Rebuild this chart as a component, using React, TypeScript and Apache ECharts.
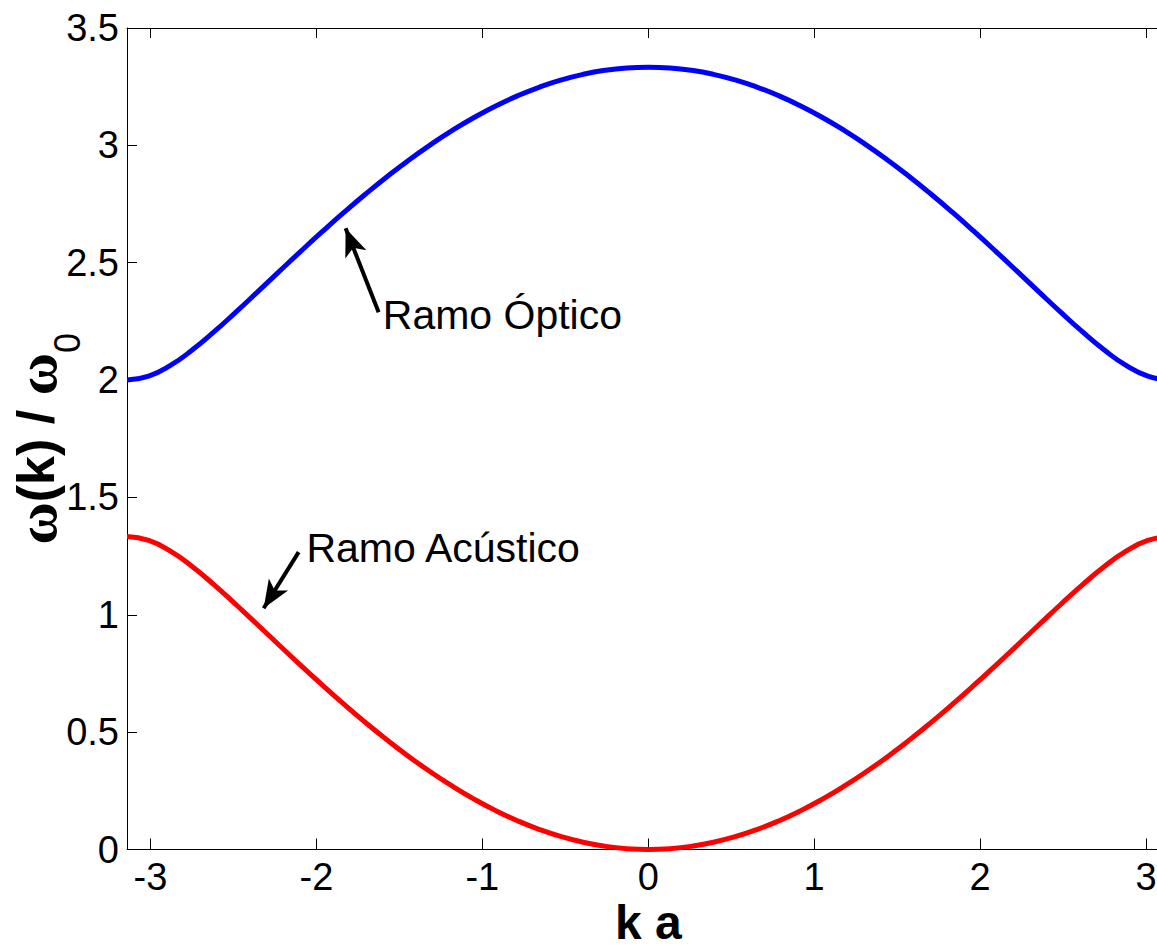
import React, { useEffect, useRef } from "react";
import * as echarts from "echarts";

// Wave number k·a across the first Brillouin zone (steps of π/24)
const kValues = [
  -3.1416, -3.0107, -2.8798, -2.7489, -2.618, -2.4871, -2.3562, -2.2253, -2.0944, -1.9635, -1.8326, -1.7017,
  -1.5708, -1.4399, -1.309, -1.1781, -1.0472, -0.9163, -0.7854, -0.6545, -0.5236, -0.3927, -0.2618, -0.1309,
  0,
  0.1309, 0.2618, 0.3927, 0.5236, 0.6545, 0.7854, 0.9163, 1.0472, 1.1781, 1.309, 1.4399, 1.5708,
  1.7017, 1.8326, 1.9635, 2.0944, 2.2253, 2.3562, 2.4871, 2.618, 2.7489, 2.8798, 3.0107, 3.1416,
];

// Optical branch ω(k)/ω0
const optical = [
  2.0, 2.0167, 2.0623, 2.1278, 2.2049, 2.2885, 2.3749, 2.4621, 2.5486, 2.6332, 2.7152, 2.7938,
  2.8685, 2.9389, 3.0044, 3.0648, 3.1196, 3.1687, 3.2117, 3.2485, 3.2789, 3.3026, 3.3196, 3.3299,
  3.3333,
  3.3299, 3.3196, 3.3026, 3.2789, 3.2485, 3.2117, 3.1687, 3.1196, 3.0648, 3.0044, 2.9389, 2.8685,
  2.7938, 2.7152, 2.6332, 2.5486, 2.4621, 2.3749, 2.2885, 2.2049, 2.1278, 2.0623, 2.0167, 2.0,
];

// Acoustic branch ω(k)/ω0
const acoustic = [
  1.3333, 1.3167, 1.271, 1.2056, 1.1284, 1.0449, 0.9584, 0.8712, 0.7848, 0.7001, 0.6182, 0.5395,
  0.4648, 0.3945, 0.3289, 0.2686, 0.2137, 0.1646, 0.1216, 0.0848, 0.0545, 0.0307, 0.0137, 0.0034,
  0,
  0.0034, 0.0137, 0.0307, 0.0545, 0.0848, 0.1216, 0.1646, 0.2137, 0.2686, 0.3289, 0.3945, 0.4648,
  0.5395, 0.6182, 0.7001, 0.7848, 0.8712, 0.9584, 1.0449, 1.1284, 1.2056, 1.271, 1.3167, 1.3333,
];

const xTicks = [-3, -2, -1, 0, 1, 2, 3];
const xMin = -3.1416;
const xMax = 3.1416;

// Annotation arrows: [tail, tip] in data coordinates
const opticalArrow = [[-1.625, 2.289], [-1.824, 2.647]];
const acousticArrow = [[-2.107, 1.267], [-2.318, 1.028]];
// Annotation text anchors (left edge, vertical middle)
const opticalLabel = { name: "Ramo Óptico", coord: [-1.6, 2.276] };
const acousticLabel = { name: "Ramo Acústico", coord: [-2.06, 1.284] };

const FONT = "'Liberation Sans', Arial, sans-serif";

function arrowLine(pts: number[][]) {
  return [
    { coord: pts[0], symbol: "none" },
    { coord: pts[1], symbol: "arrow", symbolSize: [17, 28] },
  ];
}

function textPoint(l: { name: string; coord: number[] }) {
  return {
    name: l.name,
    coord: l.coord,
    symbol: "circle",
    symbolSize: 0,
    label: {
      show: true,
      position: "right",
      distance: 0,
      formatter: "{b}",
      color: "#000",
      fontFamily: FONT,
      fontSize: 41,
      verticalAlign: "middle",
    },
  };
}

export default function App() {
  const ref = useRef<HTMLDivElement>(null);

  useEffect(() => {
    if (!ref.current) return;
    const chart = echarts.init(ref.current, undefined, { renderer: "svg" });

    const tickStyle = { color: "#000", width: 1 };
    const axisLine = { show: true, lineStyle: { color: "#000", width: 1 } };

    const branchMarkLine = (pts: number[][]) => ({
      silent: true,
      symbol: ["none", "arrow"],
      symbolSize: [0, [17, 28]],
      lineStyle: { color: "#000", width: 4, type: "solid" },
      itemStyle: { color: "#000" },
      label: { show: false },
      data: [arrowLine(pts)],
    });

    chart.setOption({
      animation: false,
      backgroundColor: "#fff",
      grid: {
        left: 127,
        top: 28,
        width: 1042.5,
        height: 821.5,
        containLabel: false,
        outerBoundsMode: "none",
      },
      xAxis: [
        {
          type: "value",
          position: "bottom",
          min: xMin,
          max: xMax,
          splitLine: { show: false },
          axisLine: { ...axisLine, onZero: false },
          axisTick: { show: true, inside: true, length: 11, customValues: xTicks, lineStyle: tickStyle },
          axisLabel: {
            show: true,
            customValues: xTicks,
            color: "#000",
            fontFamily: FONT,
            fontSize: 38,
            lineHeight: 34,
            margin: 10,
          },
          name: "k a",
          nameLocation: "middle",
          nameGap: 53,
          nameMoveOverlap: false,
          nameTextStyle: { color: "#000", fontFamily: FONT, fontSize: 48, fontWeight: "bold", lineHeight: 40 },
        },
        {
          type: "value",
          position: "top",
          min: xMin,
          max: xMax,
          splitLine: { show: false },
          axisLine: { ...axisLine, onZero: false },
          axisTick: { show: true, inside: true, length: 10, customValues: xTicks, lineStyle: tickStyle },
          axisLabel: { show: false },
        },
      ],
      yAxis: [
        {
          type: "value",
          position: "left",
          min: 0,
          max: 3.5,
          interval: 0.5,
          splitLine: { show: false },
          axisLine: { ...axisLine, onZero: false },
          axisTick: { show: true, inside: true, length: 10, lineStyle: tickStyle },
          axisLabel: { color: "#000", fontFamily: FONT, fontSize: 38, margin: 8 },
          name: "{w|ω}{b|(k) / }{w|ω}{s|0}",
          nameLocation: "middle",
          nameRotate: 90,
          nameGap: 42,
          nameMoveOverlap: false,
          nameTextStyle: {
            color: "#000",
            rich: {
              w: { fontFamily: "'Liberation Serif', serif", fontSize: 58, fontWeight: "bold", color: "#000", lineHeight: 56 },
              b: { fontFamily: FONT, fontSize: 52, fontWeight: "bold", color: "#000", lineHeight: 56 },
              s: { fontFamily: FONT, fontSize: 36, color: "#000", lineHeight: 98, verticalAlign: "bottom" },
            },
          },
        },
        {
          type: "value",
          position: "right",
          min: 0,
          max: 3.5,
          interval: 0.5,
          splitLine: { show: false },
          axisLine: { ...axisLine, onZero: false },
          axisTick: { show: true, inside: true, length: 10, lineStyle: tickStyle },
          axisLabel: { show: false },
        },
      ],
      series: [
        {
          name: "Ramo Óptico",
          type: "line",
          xAxisIndex: 0,
          yAxisIndex: 0,
          data: kValues.map((k, i) => [k, optical[i]]),
          smooth: true,
          showSymbol: false,
          clip: true,
          lineStyle: { color: "#0000ff", width: 5 },
          markLine: branchMarkLine(opticalArrow),
          markPoint: { silent: true, data: [textPoint(opticalLabel)] },
        },
        {
          name: "Ramo Acústico",
          type: "line",
          xAxisIndex: 0,
          yAxisIndex: 0,
          data: kValues.map((k, i) => [k, acoustic[i]]),
          smooth: true,
          showSymbol: false,
          clip: true,
          lineStyle: { color: "#ff0000", width: 5 },
          markLine: branchMarkLine(acousticArrow),
          markPoint: { silent: true, data: [textPoint(acousticLabel)] },
        },
      ],
    });

    return () => chart.dispose();
  }, []);

  return (
    <div
      style={{
        position: "fixed",
        left: 0,
        top: 0,
        width: 1157,
        height: 951,
        overflow: "hidden",
        background: "#fff",
      }}
    >
      <div ref={ref} style={{ width: 1220, height: 951 }} />
    </div>
  );
}
